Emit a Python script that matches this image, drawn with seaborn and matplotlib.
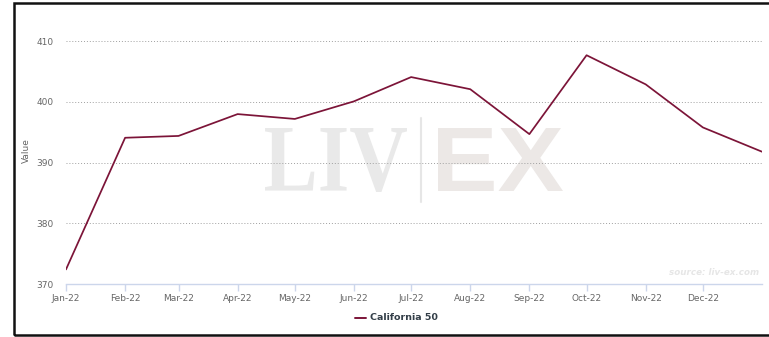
import matplotlib
matplotlib.use("Agg")
import matplotlib.pyplot as plt
import matplotlib.dates as mdates
from matplotlib.patches import Rectangle, PathPatch
from matplotlib.lines import Line2D
from matplotlib.textpath import TextPath
from matplotlib.font_manager import FontProperties
from matplotlib.transforms import Affine2D
import pandas as pd
import seaborn as sns

# Monthly index values for the California 50
months = ["2022-01-01", "2022-02-01", "2022-03-01", "2022-04-01", "2022-05-01",
          "2022-06-01", "2022-07-01", "2022-08-01", "2022-09-01", "2022-10-01",
          "2022-11-01", "2022-12-01", "2023-01-01"]
california_50 = [372.4, 394.1, 394.4, 398.0, 397.2, 400.1, 404.1, 402.1,
                 394.7, 407.7, 402.9, 395.8, 391.8]
series_name = "California 50"
y_ticks = [370, 380, 390, 400, 410]

df = pd.DataFrame({"date": pd.to_datetime(months), "value": california_50,
                   "series": series_name})

sns.set_theme(style="white")
plt.rcParams["font.family"] = ["DejaVu Sans"]

line_color = "#7c1438"
tick_color = "#666666"
axis_color = "#ccd6eb"

fig = plt.figure(figsize=(7.69, 3.37), dpi=100)
W, H = 769, 337
ax = fig.add_axes([66 / W, 53 / H, (762 - 66) / W, (284 - 17) / H])
ax.patch.set_alpha(0)

sns.lineplot(data=df, x="date", y="value", color=line_color, linewidth=1.25,
             ax=ax, legend=False, zorder=3)

ax.set_xlim(df["date"].iloc[0], df["date"].iloc[-1])
ax.set_ylim(370, 414)
ax.set_yticks(y_ticks)
ax.yaxis.grid(True, linestyle=(0, (1, 2)), color="#a0a0a0", linewidth=0.7)
ax.xaxis.grid(False)
ax.set_axisbelow(True)

ax.xaxis.set_major_locator(mdates.MonthLocator())
ax.xaxis.set_major_formatter(mdates.DateFormatter("%b-%y"))
xticks = ax.get_xticks()
ax.set_xticks(xticks[:-1])

ax.tick_params(axis="x", colors=axis_color, labelcolor=tick_color, labelsize=6.5,
               length=5, width=1, direction="out", pad=2, bottom=True)
ax.tick_params(axis="y", labelcolor=tick_color, labelsize=6.5, length=0, pad=9)

for side in ["top", "right", "left"]:
    ax.spines[side].set_visible(False)
ax.spines["bottom"].set_color(axis_color)
ax.spines["bottom"].set_linewidth(1)

ax.set_xlabel("")
ax.set_ylabel("Value", color=tick_color, fontsize=6.5, labelpad=4)


def word_mark(text, box, color, **font):
    """Draw text as a filled path stretched to a pixel box (x0, y0, x1, y1)."""
    path = TextPath((0, 0), text, size=100, prop=FontProperties(**font))
    ext = path.get_extents()
    x0, y0, x1, y1 = box
    sx = (x1 - x0) / ext.width
    sy = (y1 - y0) / ext.height
    tr = (Affine2D().translate(-ext.x0, -ext.y0).scale(sx, sy)
          .translate(x0, H - y1).scale(1 / W, 1 / H))
    patch = PathPatch(tr.transform_path(path), facecolor=color, edgecolor="none",
                      transform=fig.transFigure, zorder=0.1)
    ax.add_artist(patch)


# Brand watermark behind the line and the grid
word_mark("LIV", (265, 128, 407, 192), "#e9e9e9",
          family="Liberation Serif", weight="bold")
word_mark("EX", (438, 128, 563, 191), "#ece8e6",
          family="Liberation Sans", weight="bold")
ax.add_artist(Line2D([421 / W, 421 / W], [1 - 118 / H, 1 - 202 / H],
                     color="#e6e6e6", linewidth=1.5, zorder=0.1,
                     transform=fig.transFigure))

fig.text(759 / W, 1 - 275 / H, "source: liv-ex.com", fontsize=6.3, style="italic",
         weight="bold", color="#e6e6e6", ha="right", va="baseline")

# Legend
fig.add_artist(Line2D([355 / W, 366 / W], [1 - 318 / H, 1 - 318 / H],
                      color=line_color, linewidth=1.4))
fig.text(370 / W, 1 - 318 / H, series_name, fontsize=6.8, weight="bold",
         color="#333e48", ha="left", va="center")

# Outer frame
fig.add_artist(Rectangle((13.5 / W, 1.8 / H), (W + 5) / W, (334 - 1.3) / H,
                         transform=fig.transFigure, fill=False,
                         edgecolor="#111111", linewidth=1.8, zorder=5))

fig.savefig("out.png", dpi=100)
